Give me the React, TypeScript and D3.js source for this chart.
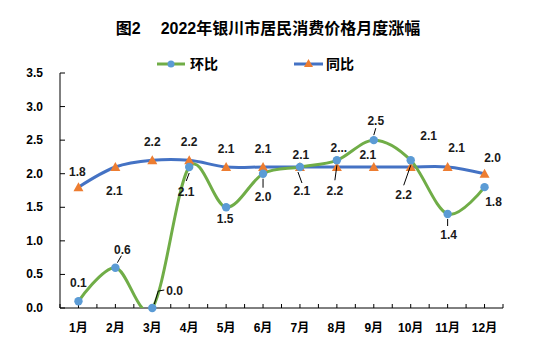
import React from "react";
import * as d3 from "d3";

const months = ["1月","2月","3月","4月","5月","6月","7月","8月","9月","10月","11月","12月"];
const momValues = [0.1, 0.6, 0.0, 2.1, 1.5, 2.0, 2.1, 2.2, 2.5, 2.2, 1.4, 1.8]; // 环比
const yoyValues = [1.8, 2.1, 2.2, 2.2, 2.1, 2.1, 2.1, 2.1, 2.1, 2.1, 2.1, 2.0]; // 同比
const momLabels = ["0.1","0.6","0.0","2.1","1.5","2.0","2.1","2.2","2.5","2.2","1.4","1.8"];
const yoyLabels = ["1.8","2.1","2.2","2.2","2.1","2.1","2.1","2...","2.1","2.1","2.1","2.0"];
const yTicks = [0, 0.5, 1.0, 1.5, 2.0, 2.5, 3.0, 3.5];
const seriesNames = ["环比", "同比"];

// label placement: [dx, dy] relative to point, optional leader [x1,y1,x2,y2] offsets, anchor
type LP = { dx: number; dy: number; leader?: number[][]; anchor?: string };
const momPlace: LP[] = [
  { dx: 0, dy: -18 },
  { dx: 7, dy: -18, leader: [[2, -5], [6, -12]] },
  { dx: 14, dy: -17, leader: [[2, -4], [6, -17], [12, -18]], anchor: "start" },
  { dx: -3, dy: 25, leader: [[0, 6], [-3, 14]] },
  { dx: -1, dy: 12 },
  { dx: 0, dy: 23, leader: [[0, 5], [0, 14]] },
  { dx: 2, dy: 24, leader: [[-2, 5], [2, 16]] },
  { dx: -2, dy: 31, leader: [[0, 5], [-2, 20]] },
  { dx: 2, dy: -19, leader: [[0, -5], [2, -12]] },
  { dx: -7, dy: 35, leader: [[0, 5], [-7, 25]] },
  { dx: 1, dy: 21, leader: [[0, 5], [0, 12]] },
  { dx: 9, dy: 15 },
];
const yoyPlace: LP[] = [
  { dx: -1, dy: -15 },
  { dx: -1, dy: 24 },
  { dx: 0, dy: -18 },
  { dx: 0, dy: -18 },
  { dx: 0, dy: -18 },
  { dx: 0, dy: -18 },
  { dx: 1, dy: -12 },
  { dx: 2, dy: -19 },
  { dx: -6, dy: -12 },
  { dx: 18, dy: -31 },
  { dx: 9, dy: -19 },
  { dx: 8, dy: -16 },
];

const GREEN = "#70AD47";
const BLUE = "#4472C4";
const DOT = "#5B9BD5";
const ORANGE = "#ED7D31";
const FONT = "'Liberation Sans', 'Noto Sans CJK SC', sans-serif";

export default function App() {
  const W = 539, H = 354;
  const left = 60, right = 503, top = 73, bottom = 308;
  const x = d3.scalePoint<string>().domain(months).range([left, right]).padding(0.5);
  const y = d3.scaleLinear().domain([0, 3.5]).range([bottom, top]);
  const step = x.step();
  const line = d3
    .line<number>()
    .x((_, i) => x(months[i]) as number)
    .y((d) => y(d))
    .curve(d3.curveCardinal.tension(0));
  const halfTicks = d3.range(0, 25).map((k) => left + (k * step) / 2);

  const tri = (cx: number, cy: number) => `M${cx},${cy - 5}L${cx + 5},${cy + 4}L${cx - 5},${cy + 4}Z`;

  const renderLabels = (vals: number[], labels: string[], place: LP[], key: string) =>
    vals.map((v, i) => {
      const px = x(months[i]) as number;
      const py = y(v);
      const p = place[i];
      return (
        <g key={key + i}>
          {p.leader && (
            <polyline
              points={p.leader.map((q) => `${px + q[0]},${py + q[1]}`).join(" ")}
              fill="none"
              stroke="#000"
              strokeWidth={1}
            />
          )}
          <text
            x={px + p.dx}
            y={py + p.dy}
            textAnchor={(p.anchor as any) || "middle"}
            dominantBaseline="central"
            fontSize={12}
            fontWeight="bold"
            fill="#1a1a1a"
            fontFamily={FONT}
          >
            {labels[i]}
          </text>
        </g>
      );
    });

  return (
    <svg width={W} height={H} style={{ position: "absolute", left: 0, top: 0, background: "#fff" }}>
      <defs>
        <clipPath id="plotclip">
          <rect x={left} y={top - 20} width={right - left + 10} height={bottom - top + 20} />
        </clipPath>
      </defs>
      <text x={268} y={28} textAnchor="middle" dominantBaseline="central" fontSize={16} fontWeight="bold" fontFamily={FONT} fill="#000">
        <tspan>图2</tspan>
        <tspan dx={20}>2022年银川市居民消费价格月度涨幅</tspan>
      </text>
      {/* legend */}
      <g>
        <line x1={157} x2={185} y1={64} y2={64} stroke={GREEN} strokeWidth={3} />
        <circle cx={171} cy={64} r={3.5} fill={DOT} />
        <text x={190} y={64} dominantBaseline="central" fontSize={14} fontWeight="bold" fontFamily={FONT}>{seriesNames[0]}</text>
        <line x1={294} x2={323} y1={64} y2={64} stroke={BLUE} strokeWidth={3} />
        <path d={`M308.5,59L313,67L304,67Z`} fill={ORANGE} />
        <text x={326} y={64} dominantBaseline="central" fontSize={14} fontWeight="bold" fontFamily={FONT}>{seriesNames[1]}</text>
      </g>
      {/* axes */}
      <line x1={left} x2={left} y1={top} y2={bottom} stroke="#000" strokeWidth={1} />
      {yTicks.map((t) => (
        <g key={"yt" + t}>
          <line x1={left} x2={left + 5} y1={y(t)} y2={y(t)} stroke="#000" />
          <text x={43} y={y(t)} textAnchor="end" dominantBaseline="central" fontSize={12} fontWeight="bold" fontFamily={FONT}>
            {t.toFixed(1)}
          </text>
        </g>
      ))}
      <line x1={left} x2={right} y1={bottom} y2={bottom} stroke="#000" strokeWidth={1} />
      {halfTicks.map((tx, k) => (
        <line key={"xt" + k} x1={tx} x2={tx} y1={bottom} y2={bottom - 4} stroke="#000" />
      ))}
      {months.map((m) => (
        <text key={m} x={x(m) as number} y={328} textAnchor="middle" dominantBaseline="central" fontSize={12} fontWeight="bold" fontFamily={FONT}>
          {m}
        </text>
      ))}
      {/* lines */}
      <g clipPath="url(#plotclip)">
        <path d={line(yoyValues) || ""} fill="none" stroke={BLUE} strokeWidth={3} />
        <path d={line(momValues) || ""} fill="none" stroke={GREEN} strokeWidth={3} />
      </g>
      {yoyValues.map((v, i) => (
        <path key={"tr" + i} d={tri(x(months[i]) as number, y(v))} fill={ORANGE} />
      ))}
      {momValues.map((v, i) => (
        <circle key={"c" + i} cx={x(months[i]) as number} cy={y(v)} r={4.2} fill={DOT} />
      ))}
      {renderLabels(yoyValues, yoyLabels, yoyPlace, "yl")}
      {renderLabels(momValues, momLabels, momPlace, "ml")}
    </svg>
  );
}
